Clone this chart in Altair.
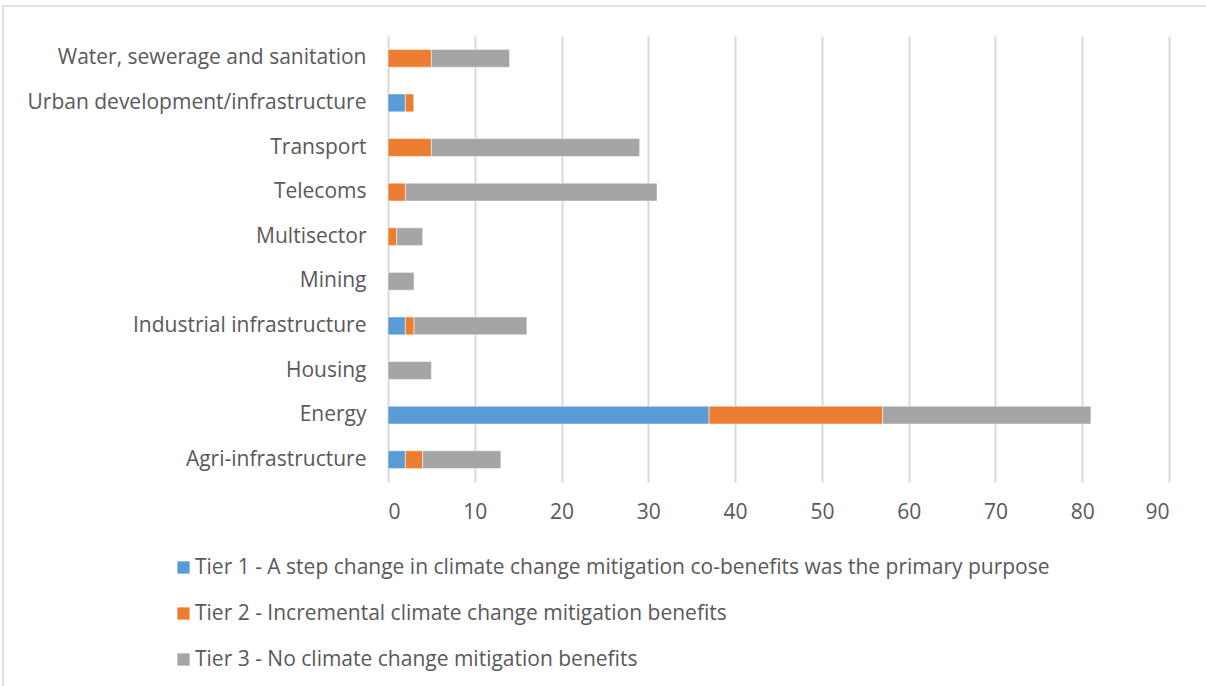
import altair as alt
import pandas as pd

# Sectors, listed top to bottom
sectors = [
    "Water, sewerage and sanitation",
    "Urban development/infrastructure",
    "Transport",
    "Telecoms",
    "Multisector",
    "Mining",
    "Industrial infrastructure",
    "Housing",
    "Energy",
    "Agri-infrastructure",
]

tier1 = [0, 2, 0, 0, 0, 0, 2, 0, 37, 2]
tier2 = [5, 1, 5, 2, 1, 0, 1, 0, 20, 2]
tier3 = [9, 0, 24, 29, 3, 3, 13, 5, 24, 9]

tier_names = [
    "Tier 1 - A step change in climate change mitigation co-benefits was the primary purpose",
    "Tier 2 - Incremental climate change mitigation benefits",
    "Tier 3 - No climate change mitigation benefits",
]
tier_colors = ["#5b9bd5", "#ed7d31", "#a5a5a5"]

rows = []
for i, s in enumerate(sectors):
    for k, vals in enumerate([tier1, tier2, tier3]):
        rows.append({"sector": s, "tier": tier_names[k], "order": k, "value": vals[i]})
df = pd.DataFrame(rows)

FONT = "Open Sans"
TXT = "#595959"

bars = alt.Chart(df).mark_bar(stroke="white", strokeWidth=0.5).encode(
    y=alt.Y(
        "sector:N",
        sort=sectors,
        title=None,
        scale=alt.Scale(paddingInner=0.6, paddingOuter=0.3),
        axis=alt.Axis(
            ticks=False, domain=False, grid=False, labelFontSize=21,
            labelColor=TXT, labelFont=FONT, labelPadding=22, labelLimit=400,
        ),
    ),
    x=alt.X(
        "value:Q",
        stack="zero",
        title=None,
        scale=alt.Scale(domain=[0, 90], nice=False),
        axis=alt.Axis(
            values=list(range(0, 91, 10)), ticks=False, domain=False,
            grid=True, gridColor="#d9d9d9", gridWidth=2,
            labelFontSize=21, labelColor=TXT, labelFont=FONT, labelPadding=19,
        ),
    ),
    color=alt.Color(
        "tier:N",
        scale=alt.Scale(domain=tier_names, range=tier_colors),
        legend=alt.Legend(
            title=None, orient="none", legendX=-215, legendY=521,
            direction="vertical", symbolType="square", symbolSize=150,
            symbolStrokeWidth=0, labelFontSize=21, labelColor=TXT,
            labelFont=FONT, rowPadding=24, labelLimit=1000, labelOffset=1,
        ),
    ),
    order=alt.Order("order:Q"),
)

# Outer frame of the chart
frame = alt.Chart(pd.DataFrame({"a": [0]})).mark_rect(
    fill=None, stroke="#d9d9d9", strokeWidth=1.5
).encode(
    x=alt.value(-385), x2=alt.value(830), y=alt.value(-30), y2=alt.value(700)
)

chart = alt.layer(frame, bars).properties(
    width=781, height=446,
    autosize="none",
    background="white",
    padding={"left": 388, "top": 36, "right": 37, "bottom": 204},
).configure_view(strokeWidth=0, stroke="transparent")

chart.save("out.html", embed_options={"renderer": "svg", "actions": False})
